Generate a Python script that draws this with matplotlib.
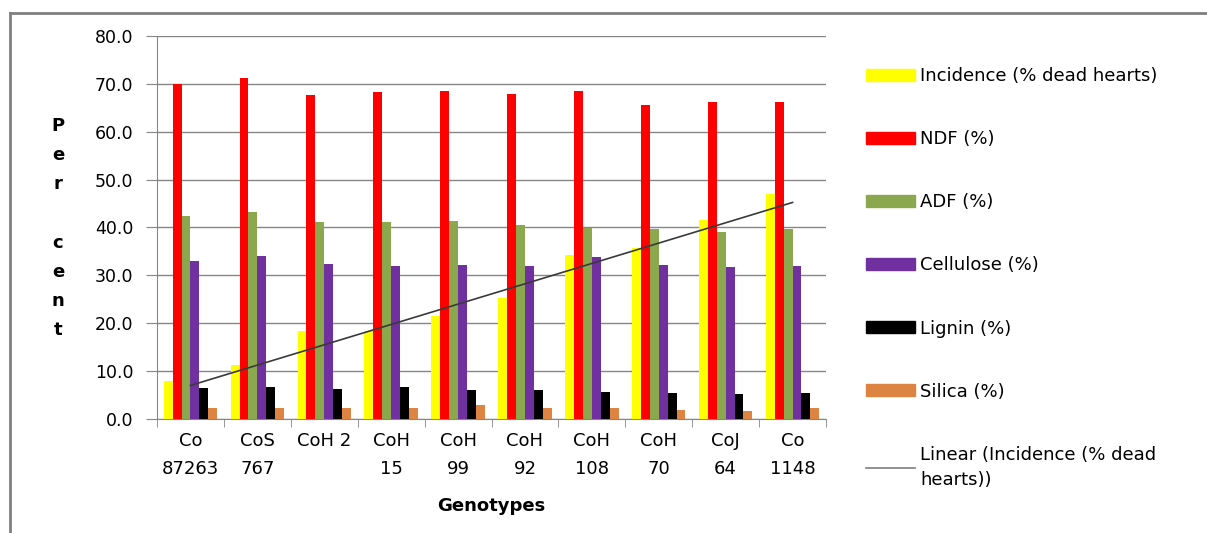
import matplotlib.pyplot as plt
import numpy as np
from matplotlib.lines import Line2D
from matplotlib.patches import Patch

# ---- data ----
genotypes = ["Co\n87263", "CoS\n767", "CoH 2\n ", "CoH\n15", "CoH\n99",
             "CoH\n92", "CoH\n108", "CoH\n70", "CoJ\n64", "Co\n1148"]
incidence = [8.0, 11.2, 18.3, 18.4, 21.6, 25.3, 34.2, 35.8, 41.5, 46.9]
ndf = [70.0, 71.3, 67.7, 68.3, 68.5, 67.9, 68.5, 65.6, 66.3, 66.3]
adf = [42.4, 43.2, 41.1, 41.1, 41.3, 40.5, 39.9, 39.7, 39.0, 39.7]
cellulose = [33.1, 34.0, 32.3, 31.9, 32.1, 31.9, 33.8, 32.1, 31.7, 31.9]
lignin = [6.5, 6.7, 6.3, 6.7, 6.1, 6.1, 5.7, 5.5, 5.3, 5.5]
silica = [2.4, 2.4, 2.4, 2.4, 3.0, 2.4, 2.2, 1.9, 1.7, 2.2]

series = [("Incidence (% dead hearts)", incidence, "#FFFF00"),
          ("NDF (%)", ndf, "#FF0000"),
          ("ADF (%)", adf, "#8BA84F"),
          ("Cellulose (%)", cellulose, "#7030A0"),
          ("Lignin (%)", lignin, "#000000"),
          ("Silica (%)", silica, "#DD8442")]

plt.rcParams['font.family'] = ['DejaVu Sans']
W, H = 1207, 533
fig = plt.figure(figsize=[W/100, H/100], dpi=100)
ax = fig.add_axes([157/W, 1-419/H, 669/W, 383/H])

x = np.arange(len(genotypes))
bw = 0.133
for i, (name, vals, col) in enumerate(series):
    ax.bar(x + (i - 2.5)*bw, vals, width=bw, color=col, label=name, zorder=3)

# linear trendline of incidence
k, b = np.polyfit(x, incidence, 1)
ax.plot(x, k*x + b, color='#3a3a3a', lw=1.2, zorder=4)

ax.set_xlim(-0.5, len(genotypes) - 0.5)
ax.set_ylim(0, 80)
ax.set_yticks(np.arange(0, 81, 10))
ax.set_yticklabels(["%.1f" % v for v in np.arange(0, 81, 10)], fontsize=12.5)
ax.set_xticks(x)
ax.set_xticklabels(genotypes, fontsize=13, linespacing=1.75)
ax.set_xticks(np.arange(-0.5, len(genotypes)), minor=True)
ax.tick_params(axis='x', which='major', length=0, pad=9)
ax.tick_params(axis='x', which='minor', length=6, color='#868686')
ax.tick_params(axis='y', length=8, color='#868686', pad=9)
ax.grid(axis='y', color='#868686', lw=1, zorder=0)
for s in ['top', 'right']:
    ax.spines[s].set_visible(False)
for s in ['left', 'bottom']:
    ax.spines[s].set_color('#868686')

ax.set_xlabel("Genotypes", fontsize=13, fontweight='bold', labelpad=14)
fig.text(58/W, 1-228/H, "P\ne\nr\n\nc\ne\nn\nt", ha='center', va='center',
         fontsize=13, fontweight='bold', linespacing=1.8)

handles = [Patch(color=c, label=n) for n, _, c in series]
handles.append(Line2D([], [], color='#7f7f7f', lw=1.2,
                      label="Linear (Incidence (% dead\nhearts))"))
leg = ax.legend(handles=handles, loc='upper left',
                bbox_to_anchor=(866/W, 1-67/H),
                bbox_transform=fig.transFigure, frameon=False, fontsize=13,
                handlelength=2.7, handleheight=0.65, handletextpad=0.3,
                labelspacing=2.5, borderpad=0, borderaxespad=0)
for t in leg.get_texts():
    t.set_linespacing(1.5)

# chart frame (top and left edges visible)
fig.add_artist(Line2D([10/W, 1], [1-13/H, 1-13/H], color='#808080', lw=2))
fig.add_artist(Line2D([10/W, 10/W], [0, 1-13/H], color='#808080', lw=2))

plt.savefig('out.png', dpi=100)
plt.close(fig)
